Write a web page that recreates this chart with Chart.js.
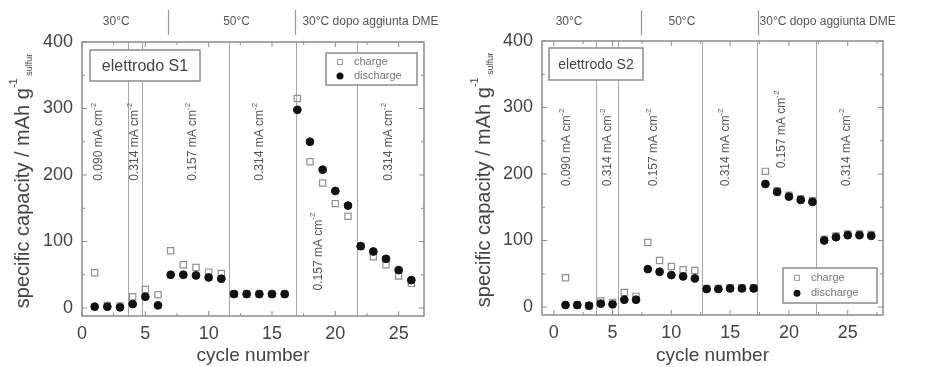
<!DOCTYPE html>
<html>
<head>
<meta charset="utf-8">
<script src="https://cdn.jsdelivr.net/npm/chart.js@4.4.1/dist/chart.umd.min.js"></script>
<style>
  html, body { margin: 0; padding: 0; background: #fff; }
  #wrap { position: relative; width: 925px; height: 367px; overflow: hidden; }
  #c1 { position: absolute; left: 0; top: 0; }
  #c2 { position: absolute; left: 462px; top: 0; }
</style>
</head>
<body>
<div id="wrap">
  <canvas id="c1" width="480" height="367"></canvas>
  <canvas id="c2" width="463" height="367"></canvas>
</div>
<script>
// ===============================
// Data
// ===============================
const cyclesS1 = [1, 2, 3, 4, 5, 6, 7, 8, 9, 10, 11, 12, 13, 14, 15, 16, 17, 18, 19, 20, 21, 22, 23, 24, 25, 26];
const chargeS1 = [53, 4, 3, 17, 28, 20, 86, 65, 61, 54, 52, 21, 21, 21, 21, 21, 315, 220, 188, 157, 138, 93, 77, 65, 48, 37];
const dischargeS1 = [2, 2, 1, 6, 17, 4, 50, 50, 49, 46, 44, 21, 21, 21, 21, 21, 298, 250, 208, 176, 154, 93, 85, 74, 57, 42];

const cyclesS2 = [1, 2, 3, 4, 5, 6, 7, 8, 9, 10, 11, 12, 13, 14, 15, 16, 17, 18, 19, 20, 21, 22, 23, 24, 25, 26, 27];
const chargeS2 = [44, 3, 2, 9, 7, 22, 16, 97, 70, 61, 56, 55, 28, 28, 29, 29, 29, 204, 175, 168, 163, 160, 102, 107, 110, 110, 109];
const dischargeS2 = [3, 3, 2, 5, 4, 11, 11, 57, 53, 48, 46, 43, 27, 27, 28, 28, 28, 185, 173, 166, 161, 158, 100, 105, 108, 108, 107];

const xTicks = [0, 5, 10, 15, 20, 25];
const yTicks = [0, 100, 200, 300, 400];

const tempLabels = ["30°C", "50°C", "30°C dopo aggiunta DME"];
const rateLabels = ["0.090", "0.314", "0.157", "0.314", "0.157", "0.314"];

// ===============================
// Styling helpers
// ===============================
const FONT = '"Liberation Sans", Arial, sans-serif';
const INK = "#444";
const FRAME = "#8c8c8c";

function font(size) {
  return size + "px " + FONT;
}

// draws a run of text parts [{t, s, dy}] starting at x (baseline middle)
function drawParts(ctx, parts, x, y, align) {
  let total = 0;
  parts.forEach(p => { ctx.font = font(p.s); total += ctx.measureText(p.t).width; });
  let cx = align === "center" ? x - total / 2 : x;
  ctx.textAlign = "left";
  ctx.textBaseline = "middle";
  parts.forEach(p => {
    ctx.font = font(p.s);
    ctx.fillText(p.t, cx, y + (p.dy || 0));
    cx += ctx.measureText(p.t).width;
  });
}

function vline(ctx, x, y0, y1) {
  ctx.beginPath();
  ctx.moveTo(x, y0);
  ctx.lineTo(x, y1);
  ctx.stroke();
}

// ===============================
// Panel decorations plugin
// ===============================
const panelPlugin = {
  id: "panel",
  beforeDatasetsDraw(chart, args, o) {
    const { ctx, chartArea: a, scales: { x, y } } = chart;
    ctx.save();

    // current-region separators
    ctx.strokeStyle = "#a8a8a8";
    ctx.lineWidth = 1;
    o.dividers.forEach(v => {
      const px = Math.round(x.getPixelForValue(v)) + 0.5;
      vline(ctx, px, a.top, a.bottom);
    });

    // frame
    ctx.strokeStyle = FRAME;
    ctx.lineWidth = 1.5;
    ctx.strokeRect(a.left, a.top, a.right - a.left, a.bottom - a.top);

    // inward ticks, all four sides
    ctx.lineWidth = 1;
    for (let v = 0; v <= x.max; v += 2.5) {
      const px = x.getPixelForValue(v);
      const len = v % 5 === 0 ? 5 : 3;
      vline(ctx, px, a.bottom, a.bottom - len);
      vline(ctx, px, a.top, a.top + len);
    }
    for (let v = 0; v <= 400; v += 50) {
      const py = y.getPixelForValue(v);
      const len = v % 100 === 0 ? 5 : 3;
      ctx.beginPath();
      ctx.moveTo(a.left, py); ctx.lineTo(a.left + len, py);
      ctx.moveTo(a.right, py); ctx.lineTo(a.right - len, py);
      ctx.stroke();
    }
    ctx.restore();
  },

  afterDatasetsDraw(chart, args, o) {
    const { ctx, chartArea: a, scales: { x, y } } = chart;
    ctx.save();
    ctx.fillStyle = INK;

    // rotated current-density labels
    o.rates.forEach((r, i) => {
      ctx.save();
      ctx.translate(x.getPixelForValue(r.x), y.getPixelForValue(r.y));
      ctx.rotate(-Math.PI / 2);
      ctx.fillStyle = "#555";
      drawParts(ctx, [
        { t: rateLabels[i] + " mA cm", s: 12 },
        { t: "-2", s: 8, dy: -5 }
      ], 0, 0, "center");
      ctx.restore();
    });

    // electrode name box
    const b = o.nameBox;
    ctx.fillStyle = "#fff";
    ctx.fillRect(b.x, b.y, b.w, b.h);
    ctx.strokeStyle = FRAME;
    ctx.lineWidth = 1.5;
    ctx.strokeRect(b.x, b.y, b.w, b.h);
    ctx.fillStyle = INK;
    ctx.font = font(b.size);
    ctx.textAlign = "center";
    ctx.textBaseline = "middle";
    ctx.fillText(o.name, b.x + b.w / 2, b.y + b.h / 2 + 1);

    // legend box
    const l = o.legendBox;
    ctx.fillStyle = "#fff";
    ctx.fillRect(l.x, l.y, l.w, l.h);
    ctx.strokeStyle = FRAME;
    ctx.lineWidth = 1.5;
    ctx.strokeRect(l.x, l.y, l.w, l.h);
    const rows = [l.y + l.h * 0.28, l.y + l.h * 0.72];
    const mx = l.x + 14;
    ctx.strokeStyle = "#999";
    ctx.lineWidth = 1;
    ctx.strokeRect(mx - 2.5, rows[0] - 2.5, 5, 5);
    ctx.fillStyle = "#111";
    ctx.beginPath();
    ctx.arc(mx, rows[1], 3.5, 0, Math.PI * 2);
    ctx.fill();
    ctx.fillStyle = "#777";
    ctx.font = font(11);
    ctx.textAlign = "left";
    ctx.fillText("charge", mx + 14, rows[0]);
    ctx.fillText("discharge", mx + 14, rows[1]);

    // temperature regions above the plot
    ctx.strokeStyle = "#999";
    ctx.lineWidth = 1.2;
    o.tempDividers.forEach(v => {
      const px = Math.round(x.getPixelForValue(v)) + 0.5;
      vline(ctx, px, 10, 35);
    });
    ctx.fillStyle = "#555";
    ctx.font = font(12);
    ctx.textBaseline = "middle";
    o.temps.forEach((t, i) => {
      ctx.textAlign = i === 2 ? "left" : "center";
      ctx.fillText(tempLabels[i], x.getPixelForValue(t), 22);
    });

    // y axis title with super/subscript
    ctx.save();
    ctx.translate(o.yTitleX, (a.top + a.bottom) / 2 + 2);
    ctx.rotate(-Math.PI / 2);
    ctx.fillStyle = INK;
    drawParts(ctx, [
      { t: "specific capacity / mAh g", s: 20 },
      { t: "-1", s: 11, dy: -9 },
      { t: " sulfur", s: 9, dy: 7 }
    ], 0, 0, "center");
    ctx.restore();

    ctx.restore();
  }
};

// ===============================
// Chart builder
// ===============================
function buildChart(id, cycles, charge, discharge, cfg) {
  const pts = arr => arr.map((v, i) => ({ x: cycles[i], y: v }));
  return new Chart(document.getElementById(id), {
    type: "scatter",
    data: {
      datasets: [
        {
          label: "charge",
          data: pts(charge),
          pointStyle: "rect",
          pointRadius: 4.4,
          backgroundColor: "rgba(255,255,255,0)",
          borderColor: "#909090",
          borderWidth: 1.2,
          order: 2
        },
        {
          label: "discharge",
          data: pts(discharge),
          pointStyle: "circle",
          pointRadius: 3.9,
          backgroundColor: "#111",
          borderColor: "#111",
          borderWidth: 1,
          order: 1
        }
      ]
    },
    options: {
      responsive: false,
      animation: false,
      layout: { padding: { top: cfg.padTop, right: cfg.padRight, left: 0, bottom: 0 } },
      plugins: {
        legend: { display: false },
        tooltip: { enabled: false },
        panel: cfg.panel
      },
      scales: {
        x: {
          type: "linear",
          min: cfg.xMin,
          max: cfg.xMax,
          afterBuildTicks: s => { s.ticks = xTicks.map(v => ({ value: v })); },
          afterFit: s => { s.height = cfg.xHeight; },
          grid: { display: false, drawTicks: false },
          border: { display: false },
          ticks: { font: { family: FONT, size: 18 }, color: INK, padding: 7 },
          title: {
            display: true,
            text: "cycle number",
            font: { family: FONT, size: 19 },
            color: INK,
            padding: 0
          }
        },
        y: {
          min: -12,
          max: 400,
          afterBuildTicks: s => { s.ticks = yTicks.map(v => ({ value: v })); },
          afterFit: s => { s.width = cfg.yWidth; },
          grid: { display: false, drawTicks: false },
          border: { display: false },
          ticks: { font: { family: FONT, size: 18 }, color: INK, padding: 9 }
        }
      }
    },
    plugins: [panelPlugin]
  });
}

buildChart("c1", cyclesS1, chargeS1, dischargeS1, {
  xMin: 0, xMax: 27, padTop: 42, padRight: 56, yWidth: 82, xHeight: 51,
  panel: {
    name: "elettrodo S1",
    nameBox: { x: 90, y: 50, w: 110, h: 31, size: 16 },
    legendBox: { x: 326, y: 53, w: 91, h: 32 },
    dividers: [3.6, 4.7, 11.6, 16.9, 21.7],
    tempDividers: [6.75, 16.8],
    temps: [2.7, 12.2, 17.4],
    rates: [
      { x: 1.35, y: 250 }, { x: 4.15, y: 250 }, { x: 8.75, y: 250 },
      { x: 14.05, y: 250 }, { x: 18.65, y: 85 }, { x: 24.2, y: 250 }
    ],
    yTitleX: 23
  }
});

buildChart("c2", cyclesS2, chargeS2, dischargeS2, {
  xMin: -1, xMax: 28, padTop: 41, padRight: 42, yWidth: 80, xHeight: 52,
  panel: {
    name: "elettrodo S2",
    nameBox: { x: 87, y: 48, w: 94, h: 32, size: 14 },
    legendBox: { x: 321, y: 268, w: 94, h: 35 },
    dividers: [3.55, 5.5, 12.6, 17.3, 22.3],
    tempDividers: [7.4, 17.4],
    temps: [1.3, 10.9, 17.5],
    rates: [
      { x: 1.1, y: 240 }, { x: 4.6, y: 240 }, { x: 8.5, y: 240 },
      { x: 14.6, y: 240 }, { x: 19.4, y: 267 }, { x: 24.9, y: 240 }
    ],
    yTitleX: 22
  }
});
</script>
</body>
</html>
